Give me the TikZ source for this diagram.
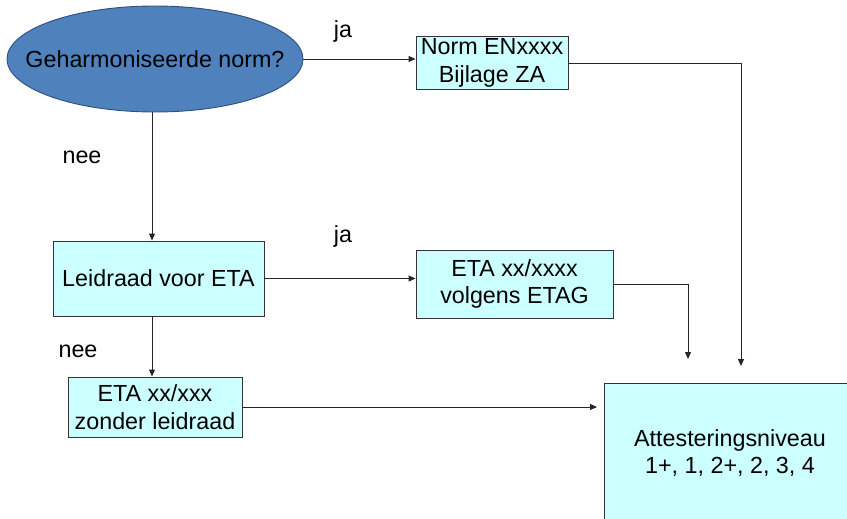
\documentclass[tikz,border=0pt]{standalone}
\usepackage{fontspec}
\setmainfont{Liberation Sans}
\usetikzlibrary{arrows.meta,shapes.geometric}
\definecolor{boxfill}{HTML}{CCFFFF}
\definecolor{ellfill}{HTML}{4F81BD}
\definecolor{ellline}{HTML}{2F4F7F}
\begin{document}
\begin{tikzpicture}[x=1pt,y=-1pt,
  font=\fontsize{23.3}{27.5}\selectfont,
  boxn/.style={draw=black!80,fill=boxfill,line width=0.9pt,inner sep=0pt,align=center},
  conn/.style={draw=black!85,line width=0.9pt},
  arr/.style={conn,-{Triangle[length=7pt,width=6pt]}},
  lbl/.style={inner sep=0pt}]
\useasboundingbox (0,0) rectangle (847,519);
\clip (0,0) rectangle (847,519);
\node[ellipse,draw=ellline,fill=ellfill,line width=0.9pt,minimum width=296pt,minimum height=106pt,inner sep=0pt] (q) at (155,59) {};
\node[lbl] (qt) at (q.center) {Geharmoniseerde norm?};
\node[boxn,minimum width=152pt,minimum height=53pt] (norm) at (492,63) {Norm ENxxxx\\ Bijlage ZA};
\node[boxn,minimum width=211pt,minimum height=75pt] (leid) at (158.5,278.5) {Leidraad voor ETA};
\node[boxn,minimum width=197pt,minimum height=68pt] (etag) at (514.5,284) {ETA xx/xxxx\\volgens ETAG};
\node[boxn,minimum width=174pt,minimum height=60pt] (zond) at (155,407) {ETA xx/xxx\\zonder leidraad};
\node[boxn,minimum width=252pt,minimum height=140pt] (att) at (730,453) {Attesteringsniveau\\1+, 1, 2+, 2, 3, 4};
\node[lbl] (ja1) at (343,31) {ja};
\node[lbl] (ja2) at (343,236) {ja};
\node[lbl] (nee1) at (82,157) {nee};
\node[lbl] (nee2) at (78,351) {nee};
\coordinate (vx) at (152,0);
\coordinate (c1) at (741,366);
\coordinate (c2) at (688,359);
\coordinate (c3) at (597,407);
\draw[arr] (q.east) -- (q.east -| norm.west);
\draw[arr] (vx |- q.south) -- (vx |- leid.north);
\draw[arr] (leid.east) -- (leid.east -| etag.west);
\draw[arr] (vx |- leid.south) -- (vx |- zond.north);
\draw[arr] (norm.east) -| (c1);
\draw[arr] (etag.east) -| (c2);
\draw[arr] (zond.east) -- (c3);
\end{tikzpicture}
\end{document}
